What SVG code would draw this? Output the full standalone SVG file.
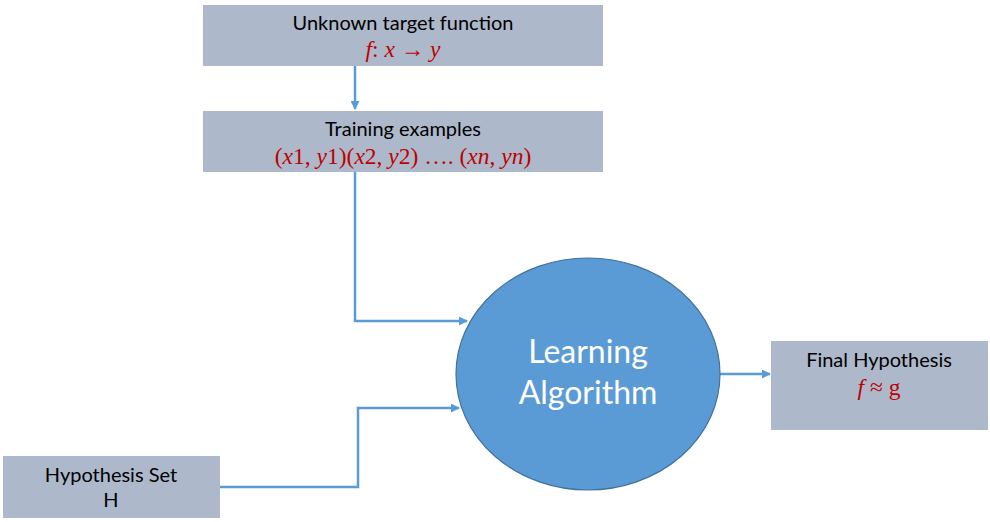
<svg xmlns="http://www.w3.org/2000/svg" width="990" height="522" viewBox="0 0 990 522">
<defs>
<marker id="ah" markerWidth="9" markerHeight="9" refX="8" refY="4.5" orient="auto" markerUnits="userSpaceOnUse">
<path d="M0,0 L9,4.5 L0,9 z" fill="#5b9bd5"/>
</marker>
<style>
.box{fill:#adb9ca;}
.lbl{font-family:Lato,"Open Sans","Liberation Sans",sans-serif;font-size:20px;fill:#000;text-anchor:middle;}
.math{font-family:"Liberation Serif","DejaVu Serif",serif;font-style:italic;font-size:23.5px;fill:#c00000;text-anchor:middle;}
.conn{fill:none;stroke:#5b9bd5;stroke-width:2.5;}
.big{font-family:Lato,"Open Sans","Liberation Sans",sans-serif;font-size:32px;fill:#fff;text-anchor:middle;}
</style>
</defs>
<rect width="990" height="522" fill="#fff"/>
<g id="connectors">
<path class="conn" d="M355,66 L355,109" marker-end="url(#ah)"/>
<path class="conn" d="M355,172 L355,321 L467,321" marker-end="url(#ah)"/>
<path class="conn" d="M220,487 L358,487 L358,408 L459,408" marker-end="url(#ah)"/>
<path class="conn" d="M720,374 L770,374" marker-end="url(#ah)"/>
</g>
<g id="target">
<rect class="box" x="203" y="5" width="400" height="61"/>
<text class="lbl" x="403" y="30">Unknown target function</text>
<text class="math" x="403" y="57">f<tspan font-style="normal">:</tspan> x <tspan font-style="normal">→</tspan> y</text>
</g>
<g id="training">
<rect class="box" x="203" y="111" width="400" height="61"/>
<text class="lbl" x="403" y="136">Training examples</text>
<text class="math" x="403" y="164"><tspan font-style="normal">(</tspan>x<tspan font-style="normal">1, </tspan>y<tspan font-style="normal">1)(</tspan>x<tspan font-style="normal">2, </tspan>y<tspan font-style="normal">2) …. (</tspan>xn<tspan font-style="normal">, </tspan>yn<tspan font-style="normal">)</tspan></text>
</g>
<g id="learning">
<ellipse cx="588" cy="374" rx="132" ry="116" fill="#5b9bd5" stroke="#41719c" stroke-width="1.2"/>
<text class="big" x="588" y="363">Learning</text>
<text class="big" x="588" y="404">Algorithm</text>
</g>
<g id="hypset">
<rect class="box" x="3" y="456" width="217" height="62"/>
<text class="lbl" x="111" y="482">Hypothesis Set</text>
<text class="lbl" x="111" y="507">H</text>
</g>
<g id="final">
<rect class="box" x="771" y="341" width="217" height="89"/>
<text class="lbl" x="879" y="367">Final Hypothesis</text>
<text class="math" x="879" y="395">f <tspan font-style="normal">≈ g</tspan></text>
</g>
</svg>
